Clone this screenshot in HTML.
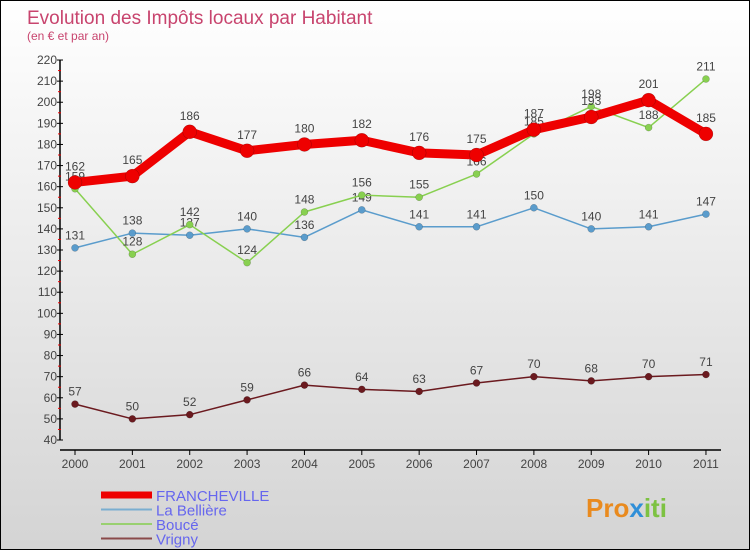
<!DOCTYPE html>
<html><head><meta charset="utf-8"><style>
body{margin:0;}
#c{width:748px;height:548px;border:1px solid #000;background:linear-gradient(#fff,#d4d4d4);position:relative;font-family:"Liberation Sans",sans-serif;overflow:hidden}
</style></head><body>
<div id="c">
<svg id="s" width="748" height="548" xmlns="http://www.w3.org/2000/svg">
<text x="26" y="23" font-size="19" fill="#c8446e">Evolution des Impôts locaux par Habitant</text>
<text x="26" y="39" font-size="12" fill="#c8446e">(en € et par an)</text>
<g id="g"></g>
<text x="585" y="516" font-size="26" font-weight="bold" fill="#e98a1e">Pro<tspan fill="#2f8fd8">x</tspan><tspan fill="#7dc242">iti</tspan></text>
</svg></div>
<script>
const years=["2000","2001","2002","2003","2004","2005","2006","2007","2008","2009","2010","2011"];
const franch=[162,165,186,177,180,182,176,175,187,193,201,185];
const bell=[131,138,137,140,136,149,141,141,150,140,141,147];
const bouce=[159,128,142,124,148,156,155,166,185,198,188,211];
const vrigny=[57,50,52,59,66,64,63,67,70,68,70,71];
const yTicks=[40,50,60,70,80,90,100,110,120,130,140,150,160,170,180,190,200,210,220];
const NS="http://www.w3.org/2000/svg";
const g=document.getElementById('g');
const X=i=>74+i*57.36, Y=v=>439-(v-40)*2.111;
function el(t,a,p){const e=document.createElementNS(NS,t);for(const k in a)e.setAttribute(k,a[k]);(p||g).appendChild(e);return e;}
let ax=el('line',{x1:59,y1:Y(220),x2:59,y2:Y(40),stroke:'#000','stroke-width':1.5});

let bx=el('line',{x1:59,y1:449,x2:720,y2:449,stroke:'#000','stroke-width':1.5});

yTicks.forEach(v=>{el('line',{x1:56,y1:Y(v),x2:62,y2:Y(v),stroke:'#000'});
 if(v<220)el('line',{x1:57,y1:Y(v+5),x2:60,y2:Y(v+5),stroke:'#e00'});
 const t=el('text',{x:56,y:Y(v)+4,'font-size':12,'text-anchor':'end',fill:'#444'});t.textContent=v;
 });
years.forEach((y,i)=>{el('line',{x1:X(i),y1:449,x2:X(i),y2:454,stroke:'#000'});
 const t=el('text',{x:X(i),y:467,'font-size':12,'text-anchor':'middle',fill:'#444'});t.textContent=y;
 });
function series(d,col,w,r,name){
 const p=el('polyline',{points:d.map((v,i)=>X(i)+','+Y(v)).join(' '),fill:'none',stroke:col,'stroke-width':w,'stroke-linejoin':'round'});
 
 d.forEach((v,i)=>{const c=el('circle',{cx:X(i),cy:Y(v),r:r,fill:col,stroke:'rgba(0,0,0,0.3)','stroke-width':0.5});
  
  const t=el('text',{x:X(i),y:Y(v)-r-5,'font-size':12,'text-anchor':'middle',fill:'#444'});t.textContent=v;
  });
}
series(vrigny,'#6b1a1f',1.5,3.5,'vrigny');
series(bell,'#5a9ccc',1.5,3.5,'la-belliere');
series(bouce,'#88d050',1.5,3.5,'bouce');
series(franch,'#ee0000',9,7,'francheville');
const leg=[["FRANCHEVILLE","#ee0000",7],["La Bellière","#7aaed0",2],["Boucé","#99d070",2],["Vrigny","#8a4a4a",2]];
leg.forEach((l,i)=>{const y=494+i*14.5;
 const ln=el('line',{x1:100,y1:y,x2:151,y2:y,stroke:l[1],'stroke-width':l[2]});
 
 const t=el('text',{x:155,y:y+6,'font-size':15,fill:'#6666ee'});t.textContent=l[0];
 });
</script>
</body></html>
